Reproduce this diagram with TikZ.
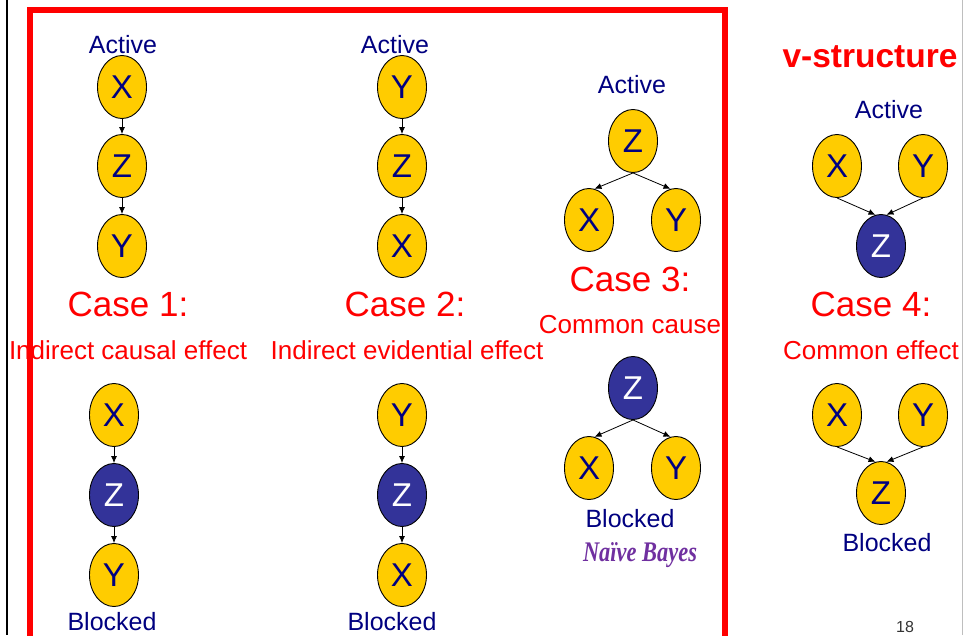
\documentclass[tikz,border=0pt]{standalone}
\usepackage{fontspec}
\setmainfont{Liberation Sans}
\newfontfamily\handfont{Liberation Serif}
\usetikzlibrary{shapes.geometric,arrows.meta}
\definecolor{navy}{RGB}{0,0,128}
\definecolor{gold}{RGB}{255,204,0}
\definecolor{indigo}{RGB}{51,51,153}
\definecolor{slidered}{RGB}{255,0,0}
\definecolor{inkpurple}{RGB}{112,48,160}
\definecolor{pagegray}{RGB}{190,190,190}

\begin{document}
\begin{tikzpicture}[x=1pt,y=-1pt,
  var/.style={ellipse, draw=black, line width=0.9pt, fill=gold, text=navy,
    minimum width=49pt, minimum height=63pt, inner sep=0pt,
    font=\fontsize{33}{33}\selectfont},
  obsvar/.style={var, fill=indigo, text=white},
  edge/.style={-{Latex[length=7pt,width=6pt]}, line width=0.8pt},
  status/.style={anchor=base, text=navy, inner sep=0pt,
    font=\fontsize{25}{25}\selectfont},
  casetitle/.style={anchor=base, text=slidered, inner sep=0pt,
    font=\fontsize{35}{35}\selectfont},
  casesub/.style={anchor=base, text=slidered, inner sep=0pt,
    font=\fontsize{26}{26}\selectfont}]

\useasboundingbox (0,0) rectangle (964,635);

% page rules and the red frame around cases 1-3
\draw[line width=2pt, black] (7,0) -- (7,635);
\draw[line width=1pt, pagegray] (962.5,0) -- (962.5,635);
\draw[line width=6pt, slidered] (30,700) -- (30,10) -- (725,10) -- (725,700);

% ---------- Case 1: indirect causal effect ----------
\node[status] (a1) at (123,53) {Active};
\node[var] (c1x) at (122,87) {X};
\node[var] (c1z) at (122,166) {Z};
\node[var] (c1y) at (122,246) {Y};
\draw[edge] (c1x.south) -- (c1z.north);
\draw[edge] (c1z.south) -- (c1y.north);
\node[casetitle] (t1) at (128,316) {Case 1:};
\node[casesub] (s1) at (128,359) {Indirect causal effect};

\node[var] (d1x) at (114,415) {X};
\node[obsvar] (d1z) at (114,495) {Z};
\node[var] (d1y) at (114,575) {Y};
\draw[edge] (d1x.south) -- (d1z.north);
\draw[edge] (d1z.south) -- (d1y.north);
\node[status] (b1) at (112,630) {Blocked};

% ---------- Case 2: indirect evidential effect ----------
\node[status] (a2) at (395,53) {Active};
\node[var] (c2y) at (402,87) {Y};
\node[var] (c2z) at (402,166) {Z};
\node[var] (c2x) at (402,246) {X};
\draw[edge] (c2y.south) -- (c2z.north);
\draw[edge] (c2z.south) -- (c2x.north);
\node[casetitle] (t2) at (405,316) {Case 2:};
\node[casesub] (s2) at (407,359) {Indirect evidential effect};

\node[var] (d2y) at (402,415) {Y};
\node[obsvar] (d2z) at (402,495) {Z};
\node[var] (d2x) at (402,575) {X};
\draw[edge] (d2y.south) -- (d2z.north);
\draw[edge] (d2z.south) -- (d2x.north);
\node[status] (b2) at (392,630) {Blocked};

% ---------- Case 3: common cause ----------
\node[status] (a3) at (632,93) {Active};
\node[var] (c3z) at (633,141) {Z};
\node[var] (c3x) at (589,220) {X};
\node[var] (c3y) at (676,220) {Y};
\draw[edge] (c3z.south) -- (c3x.80);
\draw[edge] (c3z.south) -- (c3y.100);
\node[casetitle] (t3) at (630,291) {Case 3:};
\node[casesub] (s3) at (630,333) {Common cause};

\node[obsvar] (d3z) at (633,388) {Z};
\node[var] (d3x) at (589,468) {X};
\node[var] (d3y) at (676,468) {Y};
\draw[edge] (d3z.south) -- (d3x.80);
\draw[edge] (d3z.south) -- (d3y.100);
\node[status] (b3) at (630,527) {Blocked};
\node[anchor=base, inner sep=0pt, text=inkpurple] (nb) at (640,561)
  {\resizebox{114pt}{19pt}{\handfont\bfseries\itshape Naïve Bayes}};

% ---------- Case 4: v-structure, common effect ----------
\node[anchor=base, inner sep=0pt, text=slidered,
  font=\fontsize{33.5}{33.5}\selectfont\bfseries] (vs) at (870,67) {v-structure};
\node[status] (a4) at (889,118) {Active};
\node[var] (c4x) at (837,166) {X};
\node[var] (c4y) at (923,166) {Y};
\node[obsvar] (c4z) at (881,246) {Z};
\draw[edge] (c4x.south) -- (c4z.100);
\draw[edge] (c4y.south) -- (c4z.80);
\node[casetitle] (t4) at (871,316) {Case 4:};
\node[casesub] (s4) at (871,359) {Common effect};

\node[var] (d4x) at (837,415) {X};
\node[var] (d4y) at (923,415) {Y};
\node[var] (d4z) at (881,493) {Z};
\draw[edge] (d4x.south) -- (d4z.100);
\draw[edge] (d4y.south) -- (d4z.80);
\node[status] (b4) at (887,551) {Blocked};

% slide number
\node[anchor=base, inner sep=0pt, text=black!80,
  font=\fontsize{16}{16}\selectfont] (pg) at (905,632) {18};
\end{tikzpicture}
\end{document}
